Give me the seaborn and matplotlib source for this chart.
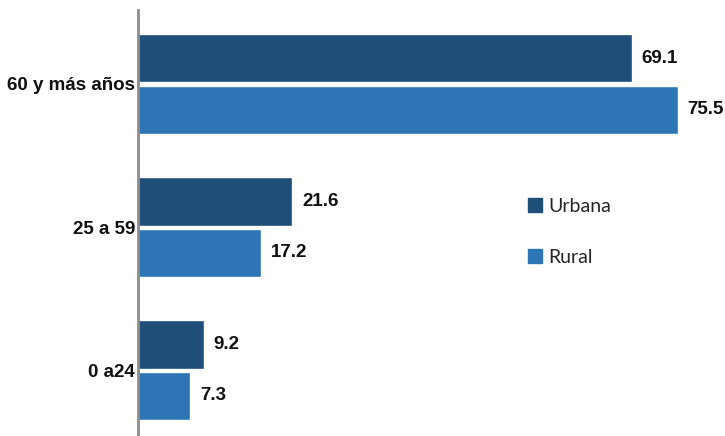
import matplotlib
matplotlib.use("Agg")
import matplotlib.pyplot as plt
import seaborn as sns
import pandas as pd
from matplotlib.patches import Patch

grupos = ["60 y más años", "25 a 59", "0 a24"]
urbana = [69.1, 21.6, 9.2]
rural = [75.5, 17.2, 7.3]
series = ["Urbana", "Rural"]
colores = ["#1F4E79", "#2E75B6"]

df = pd.DataFrame({
    "grupo": grupos * 2,
    "valor": urbana + rural,
    "area": [series[0]] * len(grupos) + [series[1]] * len(grupos),
})

sns.set_theme(style="white")
plt.rcParams["font.family"] = ["Liberation Sans", "DejaVu Sans"]

fig = plt.figure(figsize=(7.25, 4.36), dpi=100)
ax = fig.add_axes([138 / 725, 0.0, (725 - 138) / 725, 426 / 436])

sns.barplot(data=df, y="grupo", x="valor", hue="area", order=grupos,
            hue_order=series, palette=colores, orient="h", width=0.72,
            gap=0.06, saturation=1, legend=False, ax=ax)

for cont in ax.containers:
    ax.bar_label(cont, fmt="%.1f", padding=7, fontsize=13.5, fontweight="bold",
                 color="#111111")

ax.set_xlim(0, 82.1)
ax.set_ylim(2.46, -0.517)
ax.set_xlabel("")
ax.set_ylabel("")
ax.set_xticks([])
ax.tick_params(axis="y", length=0, pad=2, labelsize=13.5)
for lbl in ax.get_yticklabels():
    lbl.set_fontweight("bold")
    lbl.set_color("#111111")

for s in ["top", "right", "bottom"]:
    ax.spines[s].set_visible(False)
ax.spines["left"].set_color("#8C8C8C")
ax.spines["left"].set_linewidth(2)

handles = [Patch(facecolor=c, edgecolor=c) for c in colores]
fig.legend(handles, series, loc="center left", bbox_to_anchor=(520 / 725, 1 - 232 / 436),
           frameon=False, prop={"family": ["Lato", "DejaVu Sans"], "size": 14},
           handlelength=0.75, handleheight=0.75, handletextpad=0.3,
           labelspacing=1.75, borderaxespad=0)

fig.savefig("out.png", dpi=100)
